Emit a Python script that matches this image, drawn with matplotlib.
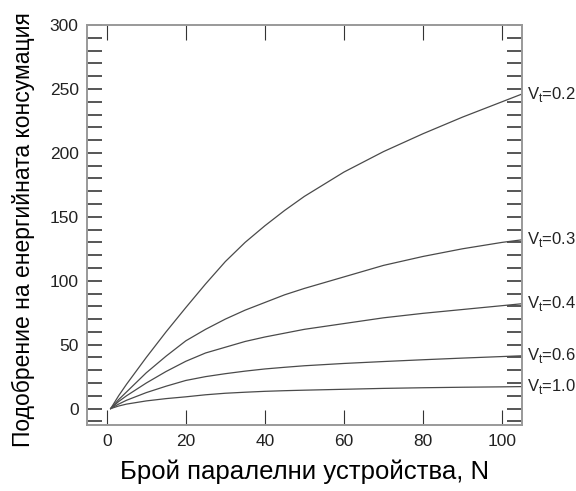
import matplotlib.pyplot as plt
from matplotlib.ticker import MultipleLocator

plt.rcParams["font.family"] = ["Liberation Sans", "DejaVu Sans"]

# Values
N_VALUES = [1, 3, 5, 10, 15, 20, 25, 30, 35, 40, 45, 50, 60, 70, 80, 90, 100, 105]
VT_LABELS = ["0.2", "0.3", "0.4", "0.6", "1.0"]
IMPROVEMENT = {
    "0.2": [0, 10, 19, 40, 60, 79, 97.5, 115, 130, 143, 155, 166,
            185, 201, 215, 228, 240, 246],
    "0.3": [0, 7, 13, 28, 41, 53, 62, 70, 77, 83, 89, 94,
            103, 112, 119, 125, 130, 132],
    "0.4": [0, 5.5, 10, 20, 29, 37, 43.5, 48, 52.5, 56, 59, 62,
            66.5, 71, 74.5, 77.5, 80.5, 82],
    "0.6": [0, 3.5, 6.5, 12.5, 17.5, 22, 25, 27.3, 29.3, 31, 32.3, 33.5,
            35.3, 36.8, 38.2, 39.5, 40.7, 41.3],
    "1.0": [0, 2, 3.5, 6, 7.8, 9.2, 10.8, 12, 12.8, 13.5, 14, 14.4,
            15.1, 15.8, 16.3, 16.7, 17.0, 17.2],
}

X_LABEL = "Брой паралелни устройства, N"
Y_LABEL = "Подобрение на енергийната консумация"

fig = plt.figure(figsize=(5.76, 4.91), dpi=100)
ax = fig.add_axes([0.151, 0.134, 0.755, 0.815])

for vt in VT_LABELS:
    values = IMPROVEMENT[vt]
    ax.plot(N_VALUES, values, color="#4a4a4a", linewidth=0.9)
    ax.annotate(
        f"V$_\\mathregular{{t}}$=" + vt,
        xy=(1.0, values[-1]),
        xycoords=("axes fraction", "data"),
        xytext=(4, 0),
        textcoords="offset points",
        va="center",
        ha="left",
        fontsize=12,
        color="#222222",
    )

ax.set_xlim(-5, 105)
ax.set_ylim(-13, 300)

ax.xaxis.set_major_locator(MultipleLocator(20))
ax.yaxis.set_major_locator(MultipleLocator(50))
ax.yaxis.set_minor_locator(MultipleLocator(10))

ax.tick_params(
    axis="x", which="major", direction="in", length=11, width=0.8,
    color="#333333", top=True, labelsize=12.5, pad=6, labelcolor="#222222",
)
ax.tick_params(
    axis="y", which="both", direction="in", length=11, width=1.4,
    color="#555555", right=True, labelsize=12.5, pad=6, labelcolor="#222222",
)

for spine in ax.spines.values():
    spine.set_color("#999999")
    spine.set_linewidth(1.4)

ax.set_xlabel(X_LABEL, fontsize=18.5, labelpad=8)
ax.set_ylabel(Y_LABEL, fontsize=16.5, labelpad=4)
ax.yaxis.set_label_coords(-0.12, 0.49)

fig.savefig("out.png", dpi=100)
